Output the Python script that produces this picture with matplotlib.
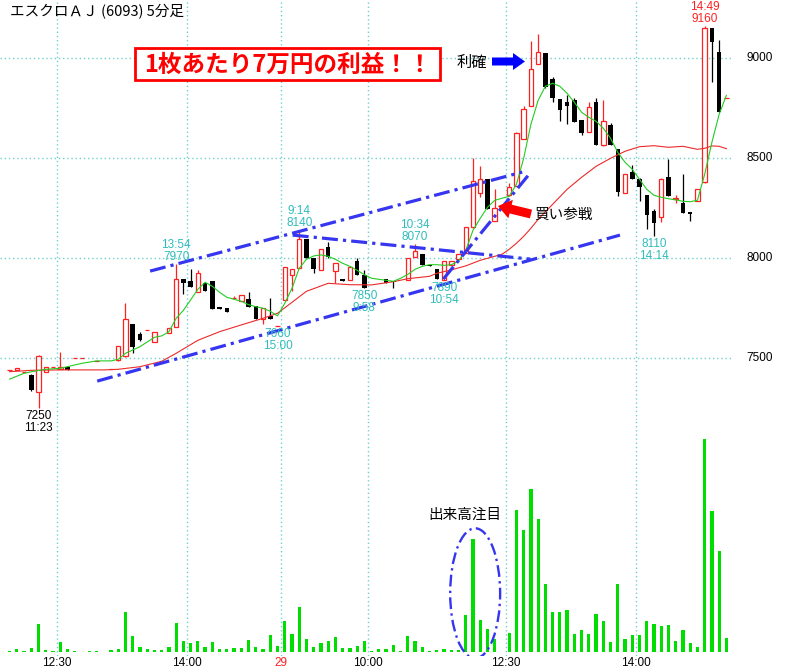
import numpy as np
import matplotlib
matplotlib.use('Agg')
import matplotlib.pyplot as plt
from matplotlib.patches import Rectangle, Ellipse, FancyArrow

plt.rcParams['font.family'] = ['Noto Sans CJK JP', 'DejaVu Sans']

# 5分足: バー番号 -7 = 28日 11:00, 0 = 12:30, 31 = 29日 9:00, 92 = 15:00
first_bar = -7
opens = [7440, 7440, 7430, 7415, 7330, 7432, 7455, 7445, 7455, 7500,
         7500, None, 7487, None, 7445, 7490, 7510, 7670, 7620, 7642,
         7580, None, 7628, 7658, 7895, 7886, 7830, 7878, 7886, 7755,
         7752, 7800, 7788, 7797, 7762, 7697, 7712, 7660, 7792, 7917,
         7950, 8095, 8000, 7942, 8058, 7938, 7897, 7892, 7987, 7917,
         None, None, 7895, 7887, None, 7892, 8005, 8022, 7967, 7945,
         7892, 7967, 7995, 8025, 8155, 8325, 8397, 8188, None, 8317,
         8360, 8595, 8762, 8972, 9028, 8895, 8795, 8783, 8790, 8692,
         8633, 8780, 8567, 8667, 8545, 8325, 8433, 8397, 8317, 8237,
         8205, 8405, 8295, 8277, 8230, 8288, 8380, 9150, 9033, 8803]
highs = [7440, 7450, 7430, 7420, 7515, 7458, 7455, 7530, 7455, 7500,
         7500, None, 7487, None, 7445, 7562, 7775, 7672, 7633, 7642,
         7630, None, 7650, 7970, 7895, 7946, 7940, 7878, 7886, 7755,
         7752, 7812, 7817, 7833, 7762, 7750, 7800, 7660, 7958, 7945,
         8140, 8095, 8000, 8047, 8080, 7975, 7897, 7958, 8000, 7942,
         None, None, 7895, 7887, None, 8000, 8070, 8022, 7967, 7945,
         7987, 7987, 8020, 8158, 8500, 8460, 8397, 8345, None, 8375,
         8630, 8760, 9088, 9120, 9028, 8905, 8795, 8815, 8800, 8692,
         8780, 8800, 8790, 8675, 8545, 8422, 8465, 8400, 8317, 8247,
         8400, 8497, 8315, 8420, 8230, 8345, 9160, 9150, 9092, 8803]
lows = [7440, 7440, 7430, 7335, 7250, 7432, 7455, 7445, 7442, 7500,
        7500, None, 7487, None, 7445, 7485, 7508, 7528, 7585, 7642,
        7580, None, 7628, 7655, 7822, 7858, 7830, 7838, 7748, 7747,
        7730, 7800, 7788, 7755, 7695, 7672, 7698, 7660, 7792, 7838,
        7950, 8000, 7925, 7942, 8000, 7878, 7887, 7892, 7917, 7850,
        None, None, 7878, 7852, None, 7892, 8005, 7967, 7960, 7895,
        7890, 7967, 7995, 8025, 8150, 8308, 8245, 8188, None, 8310,
        8360, 8595, 8762, 8972, 8850, 8780, 8685, 8672, 8683, 8615,
        8633, 8567, 8563, 8565, 8312, 8325, 8397, 8288, 8145, 8110,
        8183, 8313, 8277, 8227, 8188, 8288, 8378, 8883, 8733, 8803]
closes = [7440, 7450, 7430, 7340, 7510, 7458, 7455, 7458, 7442, 7500,
          7500, None, 7487, None, 7445, 7562, 7695, 7555, 7590, 7642,
          7630, None, 7650, 7895, 7878, 7858, 7925, 7838, 7748, 7747,
          7730, 7800, 7817, 7755, 7695, 7750, 7698, 7660, 7958, 7945,
          8095, 8000, 7945, 8047, 8008, 7975, 7887, 7958, 7917, 7850,
          None, None, 7878, 7880, None, 8000, 8038, 7967, 7960, 7895,
          7987, 7987, 8020, 8158, 8385, 8397, 8245, 8250, None, 8355,
          8625, 8745, 8945, 9030, 8855, 8800, 8742, 8762, 8683, 8625,
          8758, 8567, 8688, 8565, 8333, 8422, 8397, 8355, 8217, 8175,
          8397, 8313, 8300, 8227, 8220, 8345, 9150, 9083, 8733, 8803]
volumes = [170, 370, 170, 430, 2830, 270, 170, 1000, 330, 100,
           0, 100, 100, 0, 230, 370, 4000, 1630, 500, 300,
           230, 250, 500, 2930, 1170, 930, 1170, 570, 1000, 300,
           300, 470, 470, 1230, 500, 370, 1700, 630, 3170, 1800,
           4530, 1330, 500, 900, 1100, 1570, 430, 430, 630, 1170,
           170, 370, 300, 730, 170, 1670, 1100, 570, 170, 230,
           300, 230, 230, 3730, 11300, 3230, 2370, 1330, 0, 1970,
           14200, 12270, 16300, 13330, 6870, 4000, 4030, 4230, 1800, 2230,
           1870, 3800, 3100, 1000, 6800, 1300, 1730, 1730, 3170, 2830,
           2630, 2700, 1100, 2270, 900, 500, 21330, 14100, 10100, 1470]

# 移動平均線 (画面から読み取り)
ma_short_bars = [-7, -5, -4, -2, 0, 3, 5, 7, 8, 9, 11, 13, 14, 15, 16, 17, 18, 19, 20,
                 21, 22, 23, 24, 25, 26, 27, 28, 29, 30, 31, 32, 33, 34, 35, 36, 37, 38,
                 39, 40, 41, 42, 43, 44, 45, 46, 47, 48, 49, 50, 51, 52, 53, 54, 55, 56,
                 57, 58, 59, 60, 62, 63, 64, 65, 66, 67, 68, 69, 70, 71, 72, 73, 74, 75,
                 76, 77, 78, 79, 80, 81, 82, 83, 84, 85, 86, 87, 88, 89, 90, 91, 92]
ma_short = [7396, 7425, 7433, 7445, 7450, 7475, 7487, 7487, 7495, 7525, 7558, 7605, 7612,
            7633, 7700, 7740, 7792, 7845, 7880, 7860, 7830, 7805, 7795, 7785, 7768, 7758,
            7750, 7735, 7712, 7775, 7850, 7950, 7995, 8012, 8017, 8010, 7995, 7975, 7960,
            7940, 7918, 7900, 7895, 7890, 7885, 7900, 7920, 7945, 7960, 7968, 7968, 7965,
            7968, 7985, 8040, 8140, 8200, 8255, 8290, 8310, 8370, 8500, 8670, 8790, 8860,
            8875, 8860, 8825, 8780, 8730, 8705, 8685, 8650, 8600, 8530, 8480, 8445, 8395,
            8345, 8315, 8305, 8298, 8292, 8285, 8283, 8290, 8420, 8580, 8720, 8815]
ma_long_bars = [-7, -4, 0, 6, 8, 11, 14, 16, 19, 22, 25, 28, 30, 32, 34, 37, 40, 43, 46,
                48, 51, 52, 54, 56, 58, 60, 61, 62, 63, 64, 65, 66, 68, 70, 72, 74, 76,
                78, 80, 82, 84, 86, 88, 89, 90, 91, 92]
ma_long = [7433, 7440, 7442, 7442, 7445, 7458, 7485, 7525, 7590, 7633, 7667, 7700, 7725,
           7780, 7835, 7875, 7868, 7867, 7883, 7898, 7910, 7925, 7942, 7962, 7990, 8010,
           8020, 8045, 8075, 8110, 8150, 8195, 8270, 8345, 8405, 8460, 8500, 8535, 8558,
           8563, 8555, 8560, 8545, 8550, 8562, 8560, 8548]

tick_bars = [0, 18, 31, 43, 62, 80]
tick_labels = ['12:30', '14:00', '29', '10:00', '12:30', '14:00']
price_levels = [7500, 8000, 8500, 9000]

# 高値・安値の注記 (バー, 文字, 高値/安値)
marks = [(-3, '7250\n11:23', 'low'), (16, '13:54\n7970', 'high'),
         (30, '7660\n15:00', 'low'), (33, '9:14\n8140', 'high'),
         (42, '7850\n9:58', 'low'), (49, '10:34\n8070', 'high'),
         (53, '7890\n10:54', 'low'), (82, '8110\n14:14', 'low'),
         (89, '14:49\n9160', 'high')]

RED = '#ff2020'
CYAN = '#30bcbc'
GRID = '#70d0d0'
BLUE = '#3636f0'
NARROW = ['Liberation Sans', 'DejaVu Sans']
small = dict(fontsize=8.5, family=NARROW)

o = np.array(opens, dtype=float)
h = np.array(highs, dtype=float)
l = np.array(lows, dtype=float)
c = np.array(closes, dtype=float)
x = np.arange(len(c)) + first_bar

W, H = 800, 669
def frac(x0, y0, x1, y1):
    return [x0 / W, 1 - y1 / H, (x1 - x0) / W, (y1 - y0) / H]

fig = plt.figure(figsize=(8, 6.69), dpi=100)
ax = fig.add_axes(frac(0, 0, 740, 420))
vax = fig.add_axes(frac(0, 420, 740, 656), sharex=ax)
ax.set_xlim(-8.33, 93.88)
ax.set_ylim(7191.5, 9291.5)
vax.set_ylim(-370, 23230)
ax.set_axis_off()

# 罫線
ax.hlines(price_levels, -8.33, x[-1] + 0.8, color=GRID, lw=1, linestyles=(0, (1, 2)), zorder=1)
for b in tick_bars:
    ax.axvline(b - 0.5, color=GRID, lw=1, ls=(0, (1, 2)), zorder=1)
    vax.axvline(b - 0.5, color=GRID, lw=1, ls=(0, (1, 2)), zorder=1)
for p in price_levels:
    ax.text(1.027, p, str(p), transform=ax.get_yaxis_transform(), ha='center',
            va='center', **small)

# ローソク足
up = c > o
dn = c < o
fl = c == o
bw = 0.62
ax.vlines(x[up], l[up], h[up], color=RED, lw=0.9, zorder=3)
ax.bar(x[up], c[up] - o[up], bottom=o[up], width=bw, facecolor='white',
       edgecolor=RED, lw=0.9, zorder=4)
ax.vlines(x[dn], l[dn], h[dn], color='black', lw=0.9, zorder=3)
ax.bar(x[dn], o[dn] - c[dn], bottom=c[dn], width=bw, color='black', lw=0, zorder=4)
ax.vlines(x[fl], l[fl], h[fl], color=RED, lw=0.9, zorder=3)
ax.hlines(c[fl], x[fl] - bw / 2, x[fl] + bw / 2, color=RED, lw=0.9, zorder=4)

ax.plot(ma_long_bars, ma_long, color='#ee2a2a', lw=0.8, zorder=5)
ax.plot(ma_short_bars, ma_short, color='#22cc22', lw=0.8, zorder=5)

for b, txt, kind in marks:
    k = b - first_bar
    col = 'black' if b < 0 else (RED if b == 89 else CYAN)
    if kind == 'high':
        ax.annotate(txt, (b, h[k]), xytext=(0, 1), textcoords='offset points', ha='center',
                    va='bottom', color=col, linespacing=1.0, zorder=7, **small)
    else:
        ax.annotate(txt, (b, l[k]), xytext=(0, -1), textcoords='offset points', ha='center',
                    va='top', color=col, linespacing=1.0, zorder=7, **small)

# 手書きのライン
dashdot = (0, (5, 1.6, 1, 1.6))
trend_lines = [((12.4, 63.8), (7936, 8431)), ((5.1, 77.3), (7386, 8116)),
               ((32.1, 64.9), (8116, 7996)), ((52.9, 65.0), (7896, 8431))]
for xs, ys in trend_lines:
    ax.plot(xs, ys, color=BLUE, lw=2.3, ls=dashdot, zorder=6)

# 出来高
vax.bar(x, volumes, width=0.45, color='#00dd00', zorder=3)
vax.add_patch(Ellipse((57.3, 5900), 6.9, 13000, fill=False, ec=BLUE, lw=1.7,
                      ls=(0, (5, 1.8, 1, 1.8)), zorder=6))
for s in vax.spines.values():
    s.set_visible(False)
vax.set_yticks([])
vax.set_xticks([b - 0.5 for b in tick_bars])
vax.set_xticklabels(tick_labels, **small)
vax.tick_params(axis='x', length=0, pad=1)
vax.get_xticklabels()[2].set_color(RED)
vax.patch.set_alpha(0)

# 文字の注記
ov = fig.add_axes([0, 0, 1, 1])
ov.set_xlim(0, W)
ov.set_ylim(H, 0)
ov.axis('off')
ov.text(10, 12, 'エスクロＡＪ (6093) 5分足', fontsize=10.5, ha='left', va='center')
ov.add_patch(Rectangle((135, 48), 305, 32, fc='white', ec='#ff0000', lw=2))
ov.text(288, 64.5, '1枚あたり7万円の利益！！', color='#ff0000', fontsize=17,
        fontweight='bold', ha='center', va='center')
ov.text(472, 62, '利確', fontsize=11, ha='center', va='center')
ov.add_patch(FancyArrow(492, 61.5, 33, 0, width=8, head_width=17, head_length=12,
                        length_includes_head=True, color='#0000ff', lw=0))
ov.text(563, 215, '買い参戦', fontsize=10.5, ha='center', va='center')
ov.add_patch(FancyArrow(531, 214, -33, -8, width=9, head_width=19, head_length=13,
                        length_includes_head=True, color='#ff0000', lw=0))
ov.text(465, 515, '出来高注目', fontsize=10.5, ha='center', va='center')

fig.savefig('out.png', dpi=100, facecolor='white')
